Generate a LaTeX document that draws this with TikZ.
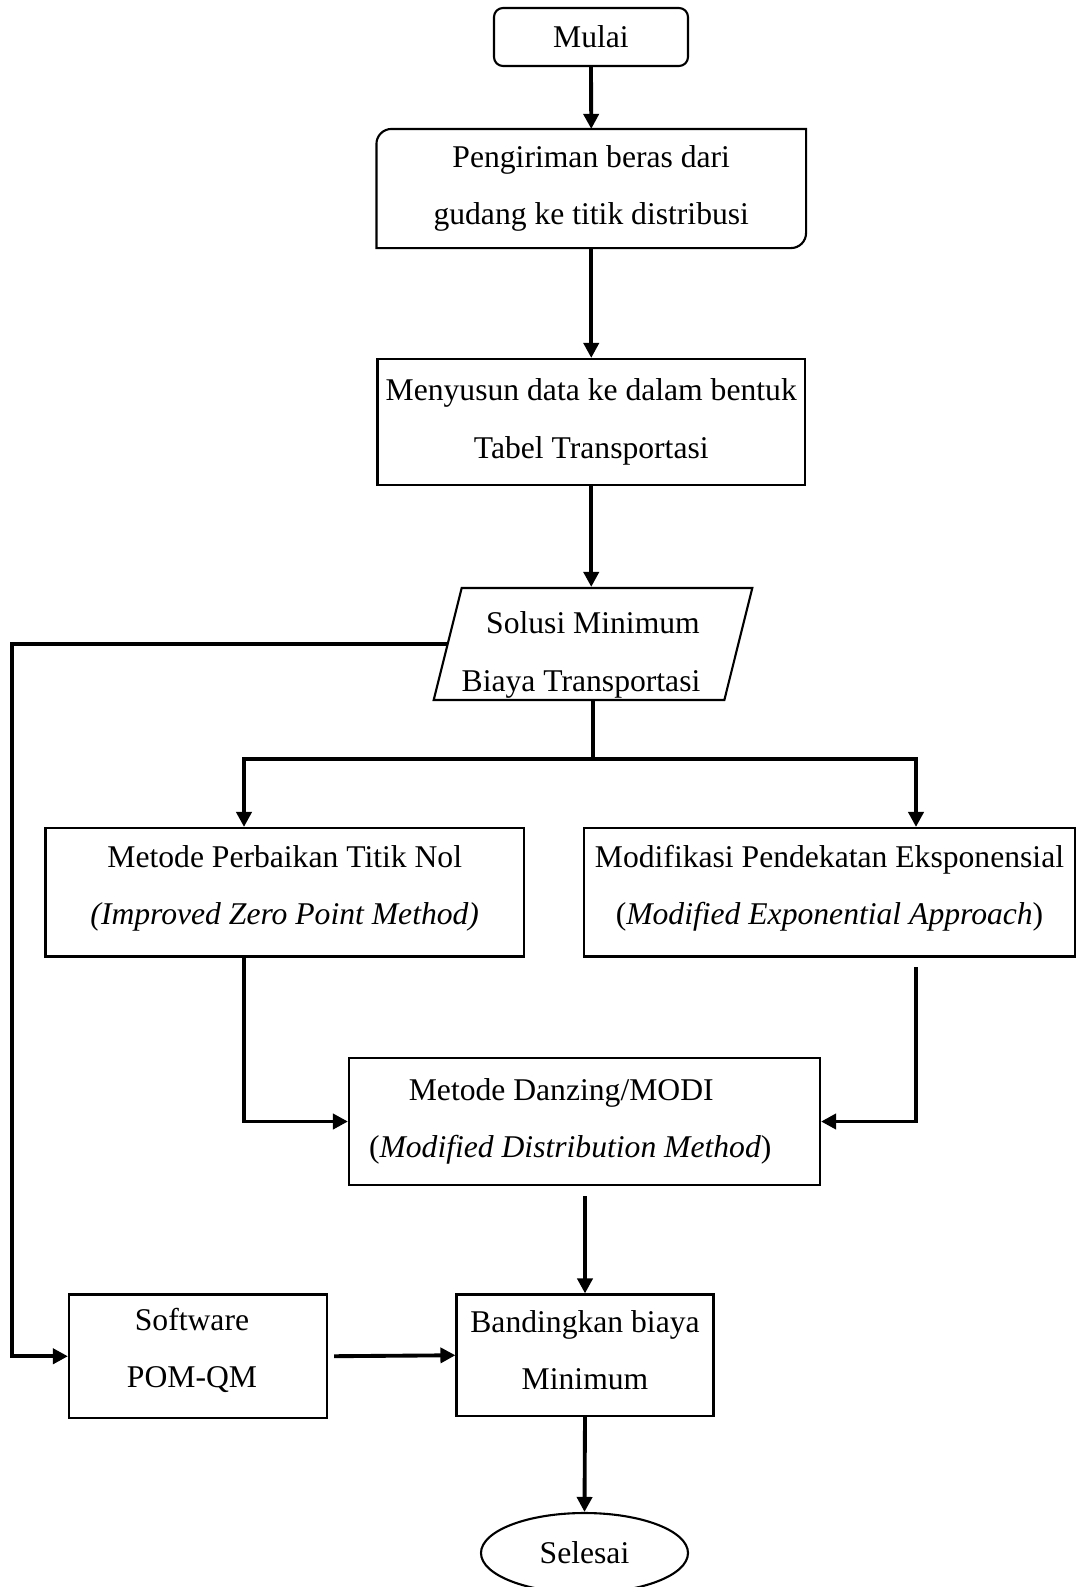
\documentclass[tikz,border=0pt]{standalone}
\usepackage{fontspec}
\setmainfont{Liberation Serif}
\usetikzlibrary{arrows.meta,shapes.geometric}

\begin{document}
\begin{tikzpicture}[
  box/.style={rectangle, draw=black, line width=1.2pt, align=center,
              inner sep=0pt, font=\fontsize{18}{32.6}\selectfont},
  link/.style={-{Triangle[length=3mm,width=3mm]}, line width=2.2pt, draw=black},
  edge/.style={line width=1.2pt, draw=black}
]
\useasboundingbox (0,0) rectangle (21.62,-31.74);

% start and first steps
\node[box, rounded corners=0.18cm, minimum width=3.88cm, minimum height=1.16cm] (mulai) at (11.82,-0.74) {Mulai};
\node[box, draw=none, minimum width=8.55cm, minimum height=2.34cm] (kirim) at (11.825,-3.77)
  {Pengiriman beras dari\\gudang ke titik distribusi};
\draw[edge] (kirim.south west) -- ([yshift=-0.3cm]kirim.north west)
  arc[start angle=180, end angle=90, radius=0.3cm] -- (kirim.north east)
  -- ([yshift=0.3cm]kirim.south east)
  arc[start angle=0, end angle=-90, radius=0.3cm] -- cycle;
\node[box, minimum width=8.55cm, minimum height=2.52cm] (susun) at (11.825,-8.44)
  {Menyusun data ke dalam bentuk\\Tabel Transportasi};
\node[box, trapezium, trapezium left angle=75.5, trapezium right angle=104.5,
      trapezium stretches body, minimum width=6.36cm, minimum height=2.24cm] (sol) at (11.86,-12.88)
  {\rule{0pt}{0.88cm}Solusi Minimum\\Biaya Transportasi\hspace*{0.48cm}};

% the two methods
\node[box, minimum width=9.57cm, minimum height=2.57cm] (perb) at (5.695,-17.845)
  {Metode Perbaikan Titik Nol\\\textit{(Improved Zero Point Method)}\rule[-0.3cm]{0pt}{0pt}};
\node[box, minimum width=9.82cm, minimum height=2.57cm] (eksp) at (16.59,-17.845)
  {Modifikasi Pendekatan Eksponensial\\(\textit{Modified Exponential Approach})\rule[-0.3cm]{0pt}{0pt}};
\node[box, minimum width=9.42cm, minimum height=2.54cm] (modi) at (11.69,-22.43)
  {Metode Danzing/MODI\hspace*{0.93cm}\\(\textit{Modified Distribution Method})\hspace*{0.57cm}};

% comparison and end
\node[box, minimum width=5.16cm, minimum height=2.47cm] (soft) at (3.96,-27.125)
  {Software\hspace*{0.24cm}\\POM-QM\hspace*{0.24cm}\rule[-0.34cm]{0pt}{0pt}};
\node[box, minimum width=5.14cm, minimum height=2.43cm] (band) at (11.70,-27.105)
  {Bandingkan biaya\\Minimum\rule[-0.2cm]{0pt}{0pt}};
\node[box, ellipse, minimum width=4.14cm, minimum height=1.6cm] (akhir) at (11.69,-31.06)
  {Selesai};

\coordinate (far) at (0.24,-12.87);
\coordinate (xl) at (4.88,-15.18);
\coordinate (xr) at (18.32,-15.18);

\draw[link] (mulai.south) -- (kirim.north);
\draw[link] (kirim.south) -- (susun.north);
\draw[link] (susun.south) -- (susun.south |- sol.north);
\draw[link] (sol.south) |- (xl) -- (xl |- perb.north);
\draw[link] (sol.south) |- (xr) -- (xr |- eksp.north);
\draw[link] (xl |- perb.south) |- (modi.west);
\draw[link, shorten <=0.19cm] (xr |- eksp.south) |- (modi.east);
\draw[link, shorten <=0.2cm] (band.north |- modi.south) -- (band.north);
\draw[link] (sol.west) -- (sol.west -| far) |- (soft.west);
\draw[link, shorten <=0.12cm] (soft.east) -- (band.west);
\draw[link] (band.south) -- (akhir.north);
\end{tikzpicture}
\end{document}
